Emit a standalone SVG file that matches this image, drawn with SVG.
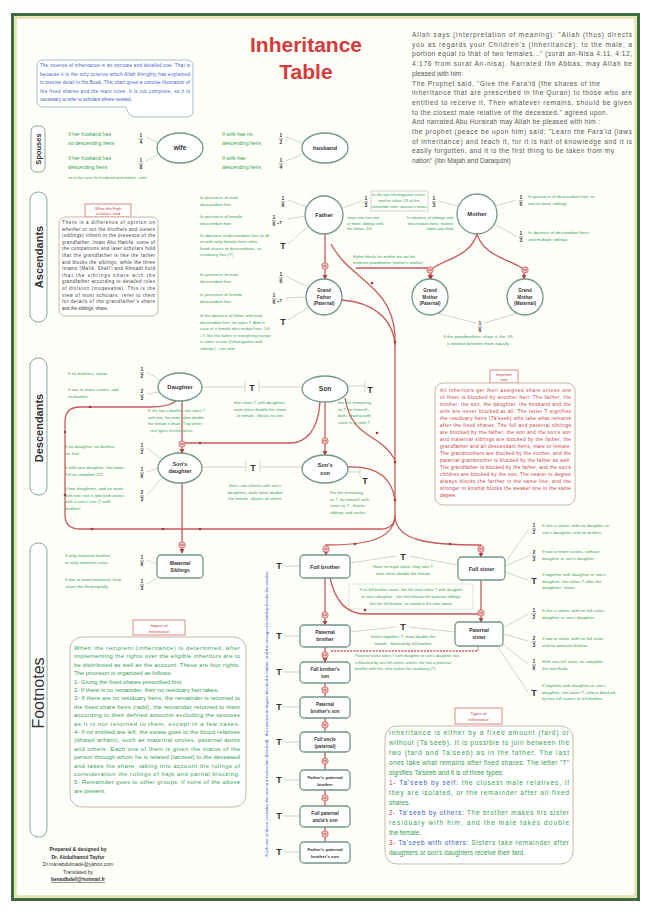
<svg xmlns="http://www.w3.org/2000/svg" width="650" height="917" viewBox="0 0 650 917">
<defs>
<style>
text{font-family:"Liberation Sans",Arial,sans-serif}
.g{fill:#35a050;font-size:4.4px}
.gm{fill:#35a050;font-size:5.2px}
.dk{fill:#555;font-size:6.6px}
.bl{fill:#3a62c0;font-size:4.6px}
.rd{fill:#c8403f;font-size:4.8px}
.nt{fill:#3a3a3a;font-size:4.5px}
.lab{fill:#333;font-size:5.8px;font-weight:bold;text-anchor:middle}
.lab2{fill:#333;font-size:4.6px;font-weight:bold;text-anchor:middle}
.fr{fill:#333;font-size:5px;font-weight:bold;text-anchor:middle}
.T{fill:#333;font-size:9px;font-weight:bold;text-anchor:middle}
.nd{fill:#fff;stroke:#6f978b;stroke-width:1.3}
.lk{fill:none;stroke:#a9b8b2;stroke-width:0.6}
.rl{fill:none;stroke:#c85a58;stroke-width:1.3}
.side{fill:#fff;stroke:#8aa89c;stroke-width:1}
.sidet{fill:#333;font-weight:bold;text-anchor:middle}
.tag{fill:#fff;stroke:#d66a66;stroke-width:0.8}
.tagt{fill:#c8403f;font-size:4.2px;text-anchor:middle}
.box{fill:#fff;stroke:#c8b8a4;stroke-width:1}
.cr{fill:#333;font-size:5px;font-weight:bold;text-anchor:middle}
.s40{font-size:4px}
.s42{font-size:4.2px}
.s39{font-size:3.9px}
</style>
<g id="blk"><circle r="3.2" fill="#f4c8c6" stroke="#c85a58" stroke-width="0.8"/><path d="M-1.8,0H1.8" stroke="#b03a38" stroke-width="0.8"/></g>
<marker id="ar" viewBox="0 0 6 6" refX="5" refY="3" markerWidth="4" markerHeight="4" orient="auto"><path d="M0,0L6,3L0,6Z" fill="#b04040"/></marker>
</defs>

<!-- frame -->
<rect x="0" y="0" width="650" height="917" fill="#fff"/>
<rect x="12.5" y="14.5" width="626" height="885" fill="#fffffa" stroke="#3f6b40" stroke-width="3"/>
<rect x="15.5" y="17.5" width="620" height="879" fill="none" stroke="#e4e4a8" stroke-width="2.5"/>

<!-- title -->
<g id="title">
<text x="306" y="52" font-size="21" font-weight="bold" fill="#d63a3a" text-anchor="middle">Inheritance</text>
<text x="306" y="79" font-size="21" font-weight="bold" fill="#d63a3a" text-anchor="middle">Table</text>
</g>

<!-- intro blue callout -->
<g id="intro">
<path d="M43,60 H187 Q193,60 193,66 V111 Q193,117 187,117 H136 Q130,117 128,112 L126,107 H43 Q37,107 37,101 V66 Q37,60 43,60 Z" fill="#fff" stroke="#a8bccb" stroke-width="1"/>
<text class="bl" x="40" y="67" textLength="150">The science of inheritance is an intricate and detailed one. That is</text>
<text class="bl" x="40" y="75.5" textLength="150">because it is the only science which Allah Almighty has explained</text>
<text class="bl" x="40" y="84" textLength="150">in precise detail in His Book. This chart gives a concise illustration of</text>
<text class="bl" x="40" y="92.5" textLength="150">the fixed shares and the main rules. It is not complete, so it is</text>
<text class="bl" x="40" y="101">necessary to refer to scholars where needed.</text>
</g>

<!-- top-right paragraph -->
<g id="quote">
<text class="dk" x="412" y="37" textLength="220">Allah says (interpretation of meaning): "Allah (thus) directs</text>
<text class="dk" x="412" y="46.7" textLength="220">you as regards your Children's (Inheritance): to the male, a</text>
<text class="dk" x="412" y="56.4" textLength="220">portion equal to that of two females..." (surat an-Nisa 4:11, 4:12,</text>
<text class="dk" x="412" y="66.1" textLength="220">4:176 from surat An-nisa). Narrated Ibn Abbas, may Allah be</text>
<text class="dk" x="412" y="75.8">pleased with him:</text>
<text class="dk" x="412" y="85.5" textLength="188">The Prophet said, "Give the Fara'id (the shares of the</text>
<text class="dk" x="412" y="95.2" textLength="220">inheritance that are prescribed in the Quran) to those who are</text>
<text class="dk" x="412" y="104.9" textLength="220">entitled to receive it. Then whatever remains, should be given</text>
<text class="dk" x="412" y="114.6" textLength="196">to the closest male relative of the deceased." agreed upon.</text>
<text class="dk" x="412" y="124.3" textLength="188">And narrated Abu Hurairah may Allah be pleased with him :</text>
<text class="dk" x="412" y="134" textLength="220">the prophet (peace be upon him) said: "Learn the Fara'id (laws</text>
<text class="dk" x="412" y="143.7" textLength="220">of inheritance) and teach it, for it is half of knowledge and it is</text>
<text class="dk" x="412" y="153.4" textLength="202">easily forgotten, and it is the first thing to be taken from my</text>
<text class="dk" x="412" y="163.1">nation" (Ibn Majah and Daraqutni)</text>
</g>

<!-- side labels -->
<g id="side-spouses"><rect class="side" x="31" y="126" width="14" height="46" rx="5"/><text class="sidet" font-size="7.5" transform="translate(40.7,149) rotate(-90)">Spouses</text></g>
<g id="side-ascendants"><rect class="side" x="30" y="192" width="17" height="130" rx="8"/><text class="sidet" font-size="11" transform="translate(42.5,257) rotate(-90)">Ascendants</text></g>
<g id="side-descendants"><rect class="side" x="30" y="358" width="17" height="137" rx="8"/><text class="sidet" font-size="11" transform="translate(42.5,428) rotate(-90)">Descendants</text></g>
<g id="side-footnotes"><rect class="side" x="30" y="543" width="17" height="294" rx="8"/><text fill="#333" font-size="16" text-anchor="middle" transform="translate(44,693) rotate(-90)">Footnotes</text></g>

<!-- connectors -->
<g id="connectors">
<path class="lk" d="M146,137 L159,143 M146,161 L161,153 M286,137 L302,143 M286,161 L303,154"/>
<path class="lk" d="M288,200 L307,207 M288,219 L305,216 M288,244 L309,226 M343,208 L362,201 M438,201 L458,206 M516,200 L496,206 M516,236 L494,224"/>
<path class="lk" d="M286,276 L308,287 M286,298 L306,297 M288,320 L309,307 M437,313 L476,323 M518,313 L484,323"/>
<path class="lk" d="M147,372 L161,381 M147,394 L160,392 M147,448 L161,459 M147,472 L158,468 M147,495 L162,478 M147,560 L157,564 M147,584 L160,576"/>
<path class="lk" d="M202,387 H245 M259,387 H302 M245,381 V392 M259,381 V392 M348,386 H365 M365,381 V392"/>
<path class="lk" d="M202,467 H246 M260,467 H302 M246,461 V472 M260,461 V472 M348,472 H360 M360,466 V477"/>
<path class="lk" d="M350,563 L396,556 M409,556 L458,565 M350,632 L396,627 M409,627 L455,632"/>
<path class="lk" d="M505,563 L528,530 M505,566 L528,556 M505,572 L528,580 M503,628 L528,614 M503,634 L528,641 M500,642 L528,664 M497,646 L528,692"/>
<path class="lk" d="M283,566 H300 M283,636 H300 M283,672 H300 M283,707 H300 M283,742 H300 M283,780 H300 M283,816 H300 M283,852 H300"/>
<path class="lk" d="M349,584 H473 V609 H349 Z" stroke-dasharray="1.5 1"/>
<path class="rl" d="M325,234 V279" marker-end="url(#ar)"/>
<path class="rl" d="M331,244 C350,280 392,285 395,335"/>
<path class="rl" d="M342,300 C372,302 393,318 395,345"/>
<path class="rl" d="M395,335 V518"/>
<path class="rl" d="M395,518 C392,540 365,545 326,545 V555" marker-end="url(#ar)"/>
<path class="rl" d="M395,518 C398,540 425,545 481,545 V557" marker-end="url(#ar)"/>
<path class="rl" d="M356,268 H430 V279" marker-end="url(#ar)"/>
<path class="rl" d="M477,234 C470,258 440,260 431,270 V279" marker-end="url(#ar)"/>
<path class="rl" d="M477,234 C484,258 515,260 524,270 V279" marker-end="url(#ar)"/>
<path class="rl" d="M345,398 C352,440 380,432 395,460"/>
<path class="rl" d="M348,467 C378,466 392,478 395,500"/>
<path class="rl" d="M325,402 V455" marker-end="url(#ar)"/>
<path class="rl" d="M320,402 C318,432 305,443 290,443 H183"/>
<path class="rl" d="M182,401 V453" marker-end="url(#ar)"/>
<path class="rl" d="M176,401 C170,406 160,407 150,407 H80 Q65,407 65,422 V515 Q65,529 80,529 H380 Q395,529 395,515"/>
<path class="rl" d="M182,483 V553" marker-end="url(#ar)"/>
<path class="rl" d="M325,578 V625" marker-end="url(#ar)"/>
<path class="rl" d="M330,578 C335,600 345,614 365,614 H480"/>
<path class="rl" d="M481,580 V622" marker-end="url(#ar)"/>
<path class="rl" d="M325,647 V662" marker-end="url(#ar)"/>
<path class="rl" d="M331,651 H478 V646" stroke-dasharray="2 1.2" stroke-width="0.9"/>
<path class="rl" d="M325,683 V697 M325,718 V732 M325,752 V770 M325,790 V806 M325,827 V842"/>
<g fill="#a83535">
<circle cx="92" cy="529" r="1.3"/><circle cx="163" cy="529" r="1.3"/><circle cx="200" cy="529" r="1.3"/><circle cx="65" cy="432" r="1.3"/><circle cx="65" cy="495" r="1.3"/><circle cx="90" cy="407" r="1.3"/><circle cx="395" cy="342" r="1.3"/><circle cx="395" cy="462" r="1.3"/><circle cx="395" cy="500" r="1.3"/><circle cx="372" cy="283" r="1.3"/><circle cx="365" cy="610" r="1.3"/><circle cx="355" cy="544" r="1.3"/><circle cx="450" cy="544" r="1.3"/><circle cx="200" cy="443" r="1.3"/><circle cx="377" cy="433" r="1.3"/>
</g>
<use href="#blk" x="325" y="266"/><use href="#blk" x="430" y="270"/><use href="#blk" x="525" y="270"/>
<use href="#blk" x="325" y="441"/><use href="#blk" x="182" y="444"/><use href="#blk" x="182" y="545"/>
<use href="#blk" x="326" y="549"/><use href="#blk" x="481" y="549"/><use href="#blk" x="325" y="615"/><use href="#blk" x="481" y="613"/>
<use href="#blk" x="325" y="655"/><use href="#blk" x="325" y="690"/><use href="#blk" x="325" y="725"/><use href="#blk" x="325" y="761"/><use href="#blk" x="325" y="798"/><use href="#blk" x="325" y="834"/>
</g>

<!-- shares -->
<g id="shares">
<g class="fr">
<text x="141" y="137">1</text><text x="141" y="143.5">4</text>
<text x="141" y="162">1</text><text x="141" y="168.5">8</text>
<text x="281" y="137">1</text><text x="281" y="143.5">2</text>
<text x="281" y="162">1</text><text x="281" y="168.5">4</text>
<text x="283" y="200">1</text><text x="283" y="206.5">6</text>
<text x="274" y="219">1</text><text x="274" y="225.5">6</text>
<text x="366" y="200">1</text><text x="366" y="206.5">3</text>
<text x="434" y="200">1</text><text x="434" y="206.5">3</text>
<text x="521" y="199">1</text><text x="521" y="205.5">6</text>
<text x="521" y="235">1</text><text x="521" y="241.5">3</text>
<text x="281" y="276">1</text><text x="281" y="282.5">6</text>
<text x="274" y="297">1</text><text x="274" y="303.5">6</text>
<text x="480" y="325">1</text><text x="480" y="331.5">6</text>
<text x="142" y="371">1</text><text x="142" y="377.5">2</text>
<text x="142" y="393">2</text><text x="142" y="399.5">3</text>
<text x="142" y="447">1</text><text x="142" y="453.5">2</text>
<text x="142" y="471">1</text><text x="142" y="477.5">6</text>
<text x="142" y="494">2</text><text x="142" y="500.5">3</text>
<text x="142" y="559">1</text><text x="142" y="565.5">6</text>
<text x="142" y="583">1</text><text x="142" y="589.5">3</text>
<text x="534" y="527">1</text><text x="534" y="533.5">2</text>
<text x="534" y="554">2</text><text x="534" y="560.5">3</text>
<text x="534" y="612">1</text><text x="534" y="618.5">2</text>
<text x="534" y="640">2</text><text x="534" y="646.5">3</text>
<text x="534" y="663">1</text><text x="534" y="669.5">6</text>
</g>
<path stroke="#333" stroke-width="0.6" d="M139,139 h4 M139,164 h4 M279,139 h4 M279,164 h4 M281,202 h4 M272,221 h4 M364,202 h4 M432,202 h4 M519,201 h4 M519,237 h4 M279,278 h4 M272,299 h4 M478,327 h4 M140,373 h4 M140,395 h4 M140,449 h4 M140,473 h4 M140,496 h4 M140,561 h4 M140,585 h4 M532,529 h4 M532,556 h4 M532,614 h4 M532,642 h4 M532,665 h4"/>
<text class="fr" x="279.5" y="224" style="font-size:4px">+T</text>
<text class="fr" x="279.5" y="302" style="font-size:4px">+T</text>
<text class="T" x="283" y="249">T</text>
<text class="T" x="283" y="325">T</text>
<text class="T" x="252" y="391">T</text>
<text class="T" x="370" y="393">T</text>
<text class="T" x="253" y="471">T</text>
<text class="T" x="365" y="484">T</text>
<text class="T" x="403" y="560">T</text>
<text class="T" x="403" y="630">T</text>
<text class="T" x="534" y="584">T</text>
<text class="T" x="534" y="696">T</text>
<text class="T" x="279" y="569">T</text><text class="T" x="279" y="639">T</text><text class="T" x="279" y="675">T</text><text class="T" x="279" y="710">T</text><text class="T" x="279" y="745">T</text><text class="T" x="279" y="783">T</text><text class="T" x="279" y="819">T</text><text class="T" x="279" y="855">T</text>
</g>

<!-- nodes -->
<g id="node-wife"><ellipse class="nd" cx="180" cy="148" rx="23" ry="15"/><text class="lab" x="180" y="150" style="font-size:6.5px">wife</text></g>
<g id="node-husband"><ellipse class="nd" cx="325" cy="148" rx="23" ry="15"/><text class="lab" x="325" y="150">husband</text></g>
<g id="node-father"><circle class="nd" cx="324" cy="215" r="19"/><text class="lab" x="324" y="217">Father</text></g>
<g id="node-mother"><circle class="nd" cx="477" cy="214" r="20"/><text class="lab" x="477" y="216">Mother</text></g>
<g id="node-grandfather"><circle class="nd" cx="324" cy="297" r="18"/><text class="lab2" x="324" y="292">Grand</text><text class="lab2" x="324" y="298.5">Father</text><text class="lab2" x="324" y="305">(Paternal)</text></g>
<g id="node-gm-paternal"><circle class="nd" cx="430" cy="297" r="18"/><text class="lab2" x="430" y="292">Grand</text><text class="lab2" x="430" y="298.5">Mother</text><text class="lab2" x="430" y="305">(Paternal)</text></g>
<g id="node-gm-maternal"><circle class="nd" cx="525" cy="297" r="18"/><text class="lab2" x="525" y="292">Grand</text><text class="lab2" x="525" y="298.5">Mother</text><text class="lab2" x="525" y="305">(Maternal)</text></g>
<g id="node-daughter"><ellipse class="nd" cx="180" cy="387" rx="22" ry="14"/><text class="lab" x="180" y="389">Daughter</text></g>
<g id="node-son"><ellipse class="nd" cx="325" cy="389" rx="23" ry="13"/><text class="lab" x="325" y="391" style="font-size:6.5px">Son</text></g>
<g id="node-sons-daughter"><ellipse class="nd" cx="180" cy="468" rx="22" ry="15"/><text class="lab" x="180" y="465.5" style="font-size:5.4px">Son's</text><text class="lab" x="180" y="473" style="font-size:5.4px">daughter</text></g>
<g id="node-sons-son"><ellipse class="nd" cx="325" cy="469" rx="23" ry="14"/><text class="lab" x="325" y="466.5" style="font-size:5.6px">Son's</text><text class="lab" x="325" y="474.5" style="font-size:5.6px">son</text></g>
<g id="node-maternal-siblings"><rect class="nd" x="157" y="555" width="46" height="23" rx="4"/><text class="lab2" x="180" y="565" style="font-size:5px">Maternal</text><text class="lab2" x="180" y="572" style="font-size:5px">Siblings</text></g>
<g id="node-full-brother"><rect class="nd" x="300" y="555" width="50" height="23" rx="4"/><text class="lab" x="325" y="568.5" style="font-size:5.4px">Full brother</text></g>
<g id="node-full-sister"><rect class="nd" x="458" y="557" width="47" height="23" rx="4"/><text class="lab" x="481.5" y="570.5" style="font-size:5.4px">Full sister</text></g>
<g id="node-paternal-brother"><rect class="nd" x="300" y="625" width="50" height="22" rx="4"/><text class="lab2" x="325" y="634" style="font-size:5px">Paternal</text><text class="lab2" x="325" y="641" style="font-size:5px">brother</text></g>
<g id="node-paternal-sister"><rect class="nd" x="455" y="622" width="48" height="24" rx="4"/><text class="lab2" x="479" y="632" style="font-size:5px">Paternal</text><text class="lab2" x="479" y="639" style="font-size:5px">sister</text></g>
<g id="node-full-brothers-son"><rect class="nd" x="300" y="662" width="50" height="21" rx="4"/><text class="lab2" x="325" y="671">Full brother's</text><text class="lab2" x="325" y="678">son</text></g>
<g id="node-paternal-brothers-son"><rect class="nd" x="300" y="697" width="50" height="21" rx="4"/><text class="lab2" x="325" y="706">Paternal</text><text class="lab2" x="325" y="713">brother's son</text></g>
<g id="node-full-uncle"><rect class="nd" x="300" y="732" width="50" height="20" rx="4"/><text class="lab2" x="325" y="740.5">Full uncle</text><text class="lab2" x="325" y="747.5">(paternal)</text></g>
<g id="node-paternal-uncle"><rect class="nd" x="300" y="770" width="50" height="20" rx="4"/><text class="lab2" x="325" y="778.5" style="font-size:4.4px">Father's paternal</text><text class="lab2" x="325" y="785.5" style="font-size:4.4px">brother</text></g>
<g id="node-full-uncles-son"><rect class="nd" x="300" y="806" width="50" height="21" rx="4"/><text class="lab2" x="325" y="815">Full paternal</text><text class="lab2" x="325" y="822">uncle's son</text></g>
<g id="node-paternal-uncles-son"><rect class="nd" x="300" y="842" width="50" height="21" rx="4"/><text class="lab2" x="325" y="851" style="font-size:4.4px">Father's paternal</text><text class="lab2" x="325" y="858" style="font-size:4.4px">brother's son</text></g>

<!-- rule texts -->
<g id="rules-spouses">
<text class="gm" x="68" y="136">If her husband has</text><text class="gm" x="68" y="145">no descending heirs</text>
<text class="gm" x="68" y="160">If her husband has</text><text class="gm" x="68" y="169">descending heirs</text>
<text class="g s40" x="68" y="179">as is the case for husband and mother - wife</text>
<text class="gm" x="222" y="136">If wife has no</text><text class="gm" x="222" y="145">descending heirs</text>
<text class="gm" x="222" y="160">If wife has</text><text class="gm" x="222" y="169">descending heirs</text>
</g>
<g id="rules-ascendants">
<text class="g" x="200" y="199">In presence of male</text><text class="g" x="200" y="205.5">descendant heir</text>
<text class="g" x="200" y="218">In presence of female</text><text class="g" x="200" y="224.5">descendant heir</text>
<text class="g" x="200" y="237">In absence of descendant heir at all</text><text class="g" x="200" y="243.3">or with only female heirs after</text><text class="g" x="200" y="249.6">fixed shares to descendants, as</text><text class="g" x="200" y="256">residuary heir (T)</text>
<text class="g s40" x="399" y="196" text-anchor="middle">In the two Umariyyatan cases,</text><text class="g s40" x="399" y="202" text-anchor="middle">mother takes 1/3 of the</text><text class="g s40" x="399" y="208" text-anchor="middle">remainder after spouse's share</text>
<path class="lk" d="M371,191 H428 V211 H371 Z"/>
<text class="g s40" x="347" y="219">when one has two</text><text class="g s40" x="347" y="224.5">or more siblings with</text><text class="g s40" x="347" y="230">the father: 1/6</text>
<text class="g s40" x="453" y="219" text-anchor="end">In absence of siblings and</text><text class="g s40" x="453" y="224.5" text-anchor="end">descendant heirs, mother</text><text class="g s40" x="453" y="230" text-anchor="end">takes one third</text>
<text class="g" x="528" y="198">In presence of descendant heir, or</text><text class="g" x="528" y="204.5">two or more siblings</text>
<text class="g" x="528" y="234">In absence of descendant heirs</text><text class="g" x="528" y="240.5">and multiple siblings</text>
<text class="g s39" x="353" y="258">Father blocks his mother but not the</text><text class="g s39" x="353" y="264">maternal grandmother (mother's mother)</text>
<text class="g" x="200" y="276">In presence of male</text><text class="g" x="200" y="282.5">descendant heir</text>
<text class="g" x="200" y="296">In presence of female</text><text class="g" x="200" y="302.5">descendant heir</text>
<text class="g s42" x="200" y="317">In the absence of father and male</text><text class="g s42" x="200" y="323.5">descendant heir, he takes T. And in</text><text class="g s42" x="200" y="330">case of a female descendant heir, 1/6</text><text class="g s42" x="200" y="336.5">+T, like the father in everything except</text><text class="g s42" x="200" y="343">in some issues (Umariyyatan and</text><text class="g s42" x="200" y="349.5">siblings) - see note</text>
<text class="g" x="478" y="338" text-anchor="middle">If the grandmothers share it, the 1/6</text><text class="g" x="478" y="344.5" text-anchor="middle">is divided between them equally</text>
</g>
<g id="rules-descendants">
<text class="g" x="68" y="375">If no brothers, alone</text>
<text class="g" x="68" y="391">If two or more sisters, and</text><text class="g" x="68" y="398">no brother</text>
<text class="g s40" x="148" y="412">If she has a brother, she takes T</text><text class="g s40" x="148" y="418.5">with him, the male takes double</text><text class="g s40" x="148" y="425">the female's share (T by other)</text><text class="g s40" x="148" y="431.5">- see types of inheritance</text>
<text class="g s42" x="260" y="404" text-anchor="middle">Son takes T, with daughters,</text><text class="g s42" x="260" y="410.5" text-anchor="middle">male takes double the share</text><text class="g s42" x="260" y="417" text-anchor="middle">of female - blocks no one</text>
<text class="g s42" x="338" y="404">For the remaining,</text><text class="g s42" x="338" y="410.5">as T, for himself -</text><text class="g s42" x="338" y="417">both, sharing with</text><text class="g s42" x="338" y="423.5">sister is as with T</text>
<text class="g" x="65" y="448">If no daughter, no brother,</text><text class="g" x="65" y="454.5">no 'heir'</text>
<text class="g" x="65" y="469">If with one daughter, she takes</text><text class="g" x="65" y="475.5">1/6 to complete 2/3</text>
<text class="g" x="65" y="490">If two daughters, and no male</text><text class="g" x="65" y="496.5">with her, she is blocked unless</text><text class="g" x="65" y="503">with a son's son (T with</text><text class="g" x="65" y="509.5">brother)</text>
<text class="g s42" x="255" y="487" text-anchor="middle">Son's son inherits with son's</text><text class="g s42" x="255" y="493.5" text-anchor="middle">daughters, male takes double</text><text class="g s42" x="255" y="500" text-anchor="middle">the female - blocks all others</text>
<text class="g s42" x="330" y="494">For the remaining,</text><text class="g s42" x="330" y="500.5">as T, for himself, with</text><text class="g s42" x="330" y="507">sister as T - blocks</text><text class="g s42" x="330" y="513.5">siblings and uncles</text>
</g>
<g id="rules-siblings">
<text class="g" x="65" y="557">If only maternal brother,</text><text class="g" x="65" y="563.5">or only maternal sister</text>
<text class="g" x="65" y="581">If two or more maternal, they</text><text class="g" x="65" y="587.5">share the third equally</text>
<text class="g s42" x="403" y="568" text-anchor="middle">Have no legal share, they take T</text><text class="g s42" x="403" y="575" text-anchor="middle">male takes double the female</text>
<text class="g s40" x="411" y="591" text-anchor="middle">If no full brother exists, the full sister takes T with daughter</text><text class="g s40" x="411" y="598" text-anchor="middle">or son's daughter - she then blocks the paternal siblings</text><text class="g s40" x="411" y="605" text-anchor="middle">like the full brother, as stated in the note above</text>
<text class="g s42" x="403" y="638" text-anchor="middle">Inherit together: T, male double the</text><text class="g s42" x="403" y="645" text-anchor="middle">female - blocked by full brother</text>
<text class="g s40" x="355" y="657">Paternal sister takes T with daughter or son's daughter, but</text><text class="g s40" x="355" y="663.5">is blocked by two full sisters unless she has a paternal</text><text class="g s40" x="355" y="670">brother with her, who makes her residuary (T)</text>
<text class="g" x="542" y="527">If she is alone, with no daughter or</text><text class="g" x="542" y="533.5">son's daughter, and no brother</text>
<text class="g" x="542" y="553">If two or more sisters, without</text><text class="g" x="542" y="559.5">daughter or son's daughter</text>
<text class="g" x="542" y="576">If together with daughter or son's</text><text class="g" x="542" y="582.5">daughter, she takes T after the</text><text class="g" x="542" y="589">daughters' share</text>
<text class="g" x="542" y="612">If she is alone, with no full sister,</text><text class="g" x="542" y="618.5">daughter or son's daughter</text>
<text class="g" x="542" y="640">If two or more, with no full sister</text><text class="g" x="542" y="646.5">and no paternal brother</text>
<text class="g" x="542" y="663">With one full sister, to complete</text><text class="g" x="542" y="669.5">the two thirds</text>
<text class="g" x="542" y="687">If together with daughter or son's</text><text class="g" x="542" y="693.5">daughter, she takes T, unless blocked</text><text class="g" x="542" y="700">by two full sisters or full brother</text>
<text class="bl" style="font-size:4.4px" text-anchor="middle" textLength="285" transform="translate(268,714) rotate(-90)">Each one of these excludes the next one below him (blocked) - the nearest in degree blocks the farther, and the strongest in kinship blocks the weaker</text>
</g>

<!-- scholars note -->
<g id="note-scholars">
<rect class="tag" x="85" y="204" width="46" height="13"/>
<text class="tagt" x="108" y="209.5">What the Fiqh</text><text class="tagt" x="108" y="215">scholars said</text>
<rect class="box" x="59" y="217" width="99" height="99" rx="6"/>
<text class="nt" x="62" y="224" textLength="93">There is a difference of opinion on</text>
<text class="nt" x="62" y="230.6" textLength="93">whether or not the brothers and sisters</text>
<text class="nt" x="62" y="237.2" textLength="93">(siblings) inherit in the presence of the</text>
<text class="nt" x="62" y="243.8" textLength="93">grandfather. Imam Abu Hanifa, some of</text>
<text class="nt" x="62" y="250.4" textLength="93">the companions and later scholars hold</text>
<text class="nt" x="62" y="257" textLength="93">that the grandfather is like the father</text>
<text class="nt" x="62" y="263.6" textLength="93">and blocks the siblings, while the three</text>
<text class="nt" x="62" y="270.2" textLength="93">Imams (Malik, Shafi'i and Ahmad) hold</text>
<text class="nt" x="62" y="276.8" textLength="93">that the siblings share with the</text>
<text class="nt" x="62" y="283.4" textLength="93">grandfather according to detailed rules</text>
<text class="nt" x="62" y="290" textLength="93">of division (muqasama). This is the</text>
<text class="nt" x="62" y="296.6" textLength="93">view of most scholars; refer to them</text>
<text class="nt" x="62" y="303.2" textLength="93">for details of the grandfather's share</text>
<text class="nt" x="62" y="309.8">and the siblings' share.</text>
</g>

<!-- important note -->
<g id="note-important">
<rect class="tag" x="490" y="370" width="28" height="13"/>
<text class="tagt" x="504" y="375.5" style="font-size:3.8px">Important</text><text class="tagt" x="504" y="381" style="font-size:3.8px">note</text>
<rect class="box" x="435" y="383" width="140" height="122" rx="8"/>
<g class="rd">
<text x="440" y="392" textLength="131">All inheritors get their assigned share unless one</text>
<text x="440" y="399" textLength="131">of them is blocked by another heir. The father, the</text>
<text x="440" y="406" textLength="131">mother, the son, the daughter, the husband and the</text>
<text x="440" y="413" textLength="131">wife are never blocked at all. The letter T signifies</text>
<text x="440" y="420" textLength="131">the residuary heirs (Ta'seeb) who take what remains</text>
<text x="440" y="427" textLength="131">after the fixed shares. The full and paternal siblings</text>
<text x="440" y="434" textLength="131">are blocked by the father, the son and the son's son</text>
<text x="440" y="441" textLength="131">and maternal siblings are blocked by the father, the</text>
<text x="440" y="448" textLength="131">grandfather and all descendant heirs, male or female.</text>
<text x="440" y="455" textLength="131">The grandmothers are blocked by the mother, and the</text>
<text x="440" y="462" textLength="131">paternal grandmother is blocked by the father as well.</text>
<text x="440" y="469" textLength="131">The grandfather is blocked by the father, and the son's</text>
<text x="440" y="476" textLength="131">children are blocked by the son. The nearer in degree</text>
<text x="440" y="483" textLength="131">always blocks the farther in the same line, and the</text>
<text x="440" y="490" textLength="131">stronger in kinship blocks the weaker one in the same</text>
<text x="440" y="497">degree.</text>
</g>
</g>

<!-- impact footnote -->
<g id="note-impact">
<rect class="tag" x="133" y="620" width="52" height="15"/>
<text class="tagt" x="159" y="626.5">Impact of</text><text class="tagt" x="159" y="632.5">Inheritance</text>
<rect class="box" x="70" y="637" width="176" height="170" rx="12"/>
<g style="fill:#35a050;font-size:5.9px">
<text x="74" y="650" textLength="166">When the recipient (inheritance) is determined, after</text>
<text x="74" y="658.4" textLength="166">implementing the rights over the eligible inheritors are to</text>
<text x="74" y="666.8" textLength="166">be distributed as well as the account. These are four rights.</text>
<text x="74" y="675.2">The provision is organized as follows:</text>
<text x="74" y="683.6">1- Giving the fixed shares prescribed first.</text>
<text x="74" y="692">2- If there is no remainder, then no residuary heir takes.</text>
<text x="74" y="700.4" textLength="166">3- If there are no residuary heirs, the remainder is returned to</text>
<text x="74" y="708.8" textLength="166">the fixed share heirs (radd), the remainder returned to them</text>
<text x="74" y="717.2" textLength="166">according to their defined amounts excluding the spouses</text>
<text x="74" y="725.6" textLength="166">as it is not returned to them, except in a few cases.</text>
<text x="74" y="734" textLength="166">4- If no entitled are left, the estate goes to the blood relatives</text>
<text x="74" y="742.4" textLength="166">(dhawil arham), such as maternal uncles, paternal aunts</text>
<text x="74" y="750.8" textLength="166">and others. Each one of them is given the status of the</text>
<text x="74" y="759.2" textLength="166">person through whom he is related (tanzeel) to the deceased</text>
<text x="74" y="767.6" textLength="166">and takes his share, taking into account the rulings of</text>
<text x="74" y="776" textLength="166">consideration the rulings of hajb and partial blocking.</text>
<text x="74" y="784.4" textLength="166">5- Remainder goes to other groups, if none of the above</text>
<text x="74" y="792.8">are present.</text>
</g>
</g>

<!-- types footnote -->
<g id="note-types">
<rect class="tag" x="455" y="708" width="47" height="16"/>
<text class="tagt" x="478.5" y="714.5">Types of</text><text class="tagt" x="478.5" y="720.5">Inheritance</text>
<rect class="box" x="385" y="726" width="188" height="138" rx="12"/>
<g style="fill:#35a050;font-size:6.5px">
<text x="389" y="735" textLength="180">Inheritance is either by a fixed amount (fard) or</text>
<text x="389" y="745" textLength="180">without (Ta'seeb). It is possible to join between the</text>
<text x="389" y="755" textLength="180">two (fard and Ta'seeb) as in the father. The last</text>
<text x="389" y="765" textLength="180">ones take what remains after fixed shares. The letter "T"</text>
<text x="389" y="775">signifies Ta'seeb and it is of three types:</text>
<text x="389" y="785" textLength="180"><tspan fill="#c8403f">1-</tspan> <tspan fill="#3a62c0">Ta'seeb by self:</tspan> the closest male relatives, if</text>
<text x="389" y="795" textLength="180">they are isolated, or the remainder after all fixed</text>
<text x="389" y="805">shares.</text>
<text x="389" y="815" textLength="180"><tspan fill="#c8403f">2-</tspan> <tspan fill="#3a62c0">Ta'seeb by others:</tspan> The brother makes his sister</text>
<text x="389" y="825" textLength="180">residuary with him, and the male takes double</text>
<text x="389" y="835">the female.</text>
<text x="389" y="845" textLength="180"><tspan fill="#c8403f">3-</tspan> <tspan fill="#3a62c0">Ta'seeb with others:</tspan> Sisters take remainder after</text>
<text x="389" y="855">daughters or son's daughters receive their fard.</text>
</g>
</g>

<!-- credits -->
<g id="credits">
<text class="cr" x="78" y="851">Prepared &amp; designed by</text>
<text class="cr" x="78" y="858.5">Dr. Abdulhamid Tayfur</text>
<text class="cr" x="78" y="866" style="font-weight:normal">Dr.manabdulmade@yahoo.com</text>
<text class="cr" x="78" y="873.5" style="font-weight:normal">Translated by</text>
<text class="cr" x="78" y="881" text-decoration="underline">benadbdell@hotmail.fr</text>
</g>
</svg>
